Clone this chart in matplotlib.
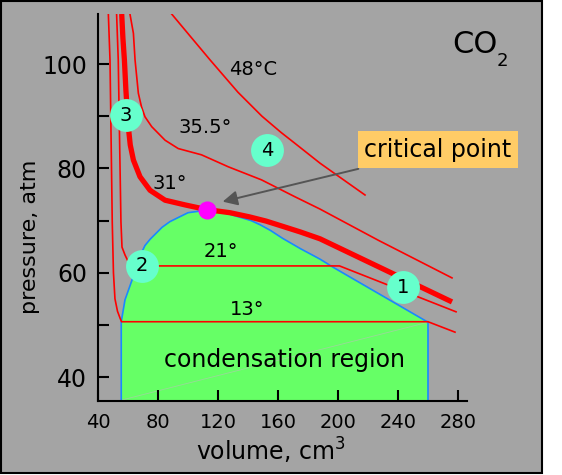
#!/usr/bin/env python3
# -*- coding: utf-8 -*-

# Isothermes du CO2 (diagramme p-V, Andrews)
import matplotlib
matplotlib.use("Agg")
import matplotlib.pyplot as plt
from matplotlib.patches import Rectangle

# Isothermes (volume cm3, pression atm)
v13 = [46.9, 48, 49.5, 50.3, 51.3, 53, 54.7, 55.7, 260, 278]
p13 = [109.6, 100.8, 69.7, 60, 55, 52.6, 51.3, 50.6, 50.6, 48.6]

v21 = [52.4, 53.5, 55.3, 56, 58, 60, 63, 201, 278.7]
p21 = [109.6, 100.8, 69.7, 64.9, 63.4, 62.2, 61.3, 61.3, 52.5]

v31 = [55.8, 56.6, 57.6, 58.6, 60.2, 61.5, 63.6, 68, 74.7, 84.7, 98, 112.5,
       128, 141, 152, 163, 175, 188, 276]
p31 = [109.6, 105, 100.8, 95, 88, 84.5, 81.6, 78.4, 75.8, 73.9, 73, 72.1,
       71.5, 70.7, 69.9, 68.9, 67.8, 66.5, 54.4]

v35 = [61.3, 63.6, 64.7, 66.9, 69, 71.3, 75.8, 84.7, 93.5, 109, 126.9, 149,
       171, 188, 227, 276]
p35 = [109.6, 105.9, 100.8, 94.4, 91.8, 89.9, 88, 85.4, 83.8, 82.6, 80.3, 77.8,
       74.6, 72.2, 66.2, 59]

v48 = [89.1, 101.3, 114.7, 133.3, 149.3, 162, 171.3, 188, 204.7, 218]
p48 = [109.6, 105.4, 100.8, 94.6, 90.0, 86.9, 84.8, 81, 77.6, 74.9]

# Zone de condensation (courbe de saturation)
v_dome = [55.5, 55.5, 58, 62.7, 66, 71.3, 74.7, 82.7, 88, 100, 112.5,
          120, 128, 135, 142, 148, 155, 163, 175, 188, 197, 260, 260]
p_dome = [35.4, 50.6, 54.8, 58.6, 62, 65.2, 66.4, 68.7, 69.8, 71.5, 72.0,
          71.7, 71.2, 70.6, 70, 69.2, 68.1, 66.6, 64.6, 62.6, 61.0, 50.5, 35.4]

crit_v, crit_p = 112.5, 72.1

# Etiquettes
iso_labels = ['48°C', '35.5°', '31°', '21°', '13°']
iso_v = [143.3, 111.3, 88, 121.7, 139.7]
iso_p = [97.9, 86.8, 76.0, 63.0, 51.9]

num_labels = ['1', '2', '3', '4']
num_v = [243.3, 69.5, 58.6, 152.5]
num_p = [57.2, 61.3, 90.2, 83.5]

W, H = 562, 475
fig = plt.figure(figsize=(W / 100, H / 100), dpi=100)
fig.patches.append(Rectangle((1 / W, 2.5 / H), 541 / W, 471.5 / H,
                             transform=fig.transFigure, fc='#a4a4a4',
                             ec='black', lw=1.5, zorder=-10))

ax = fig.add_axes([98 / W, (H - 401) / H, (467 - 98) / W, 387 / H])
ax.patch.set_visible(False)
ax.set_xlim(40, 286)
ax.set_ylim(35.4, 109.6)

# zone verte + courbe bleue
ax.fill(v_dome, p_dome, color='#66ff66', lw=0, zorder=1)
ax.plot(v_dome, p_dome, color='#1a88ff', lw=1.2, zorder=2)
ax.plot([56, 260], [35.6, 50.5], color='#9ad89a', lw=0.6, zorder=1.5)

for v, p in [(v13, p13), (v21, p21), (v35, p35), (v48, p48)]:
    ax.plot(v, p, color='red', lw=1.2, zorder=3)
ax.plot(v31, p31, color='red', lw=3.8, zorder=3, solid_capstyle='butt')

ax.scatter([crit_v], [crit_p], s=170, color='#ff00ff', zorder=5, lw=0)
ax.scatter(num_v, num_p, s=560, color='#66ffcc', zorder=6, lw=0)
for t, v, p in zip(num_labels, num_v, num_p):
    ax.text(v, p, t, ha='center', va='center', fontsize=14, zorder=7)

for t, v, p in zip(iso_labels, iso_v, iso_p):
    ax.text(v, p, t, ha='center', va='baseline', fontsize=14, zorder=7)

ax.text(164, 42.0, 'condensation region', ha='center', va='baseline',
        fontsize=17, zorder=7)

ax.annotate('critical point', xy=(121.3, 73.5), xytext=(266.7, 83.6),
            ha='center', va='center', fontsize=17, zorder=8,
            bbox=dict(boxstyle='square,pad=0.28', fc='#ffcc66', ec='none'),
            arrowprops=dict(arrowstyle='-|>', color='#555555', lw=1.4,
                            mutation_scale=22))

fig.text(452 / W, 1 - 53.3 / H, 'CO', fontsize=22, ha='left', va='baseline')
fig.text(497 / W, 1 - 65.7 / H, '2', fontsize=13, ha='left', va='baseline')

# axes
for s in ['top', 'right']:
    ax.spines[s].set_visible(False)
for s in ['left', 'bottom']:
    ax.spines[s].set_linewidth(1.5)
ax.set_xticks([40, 80, 120, 160, 200, 240, 280])
ax.set_yticks([40, 60, 80, 100])
ax.set_yticks([50, 70, 90], minor=True)
ax.tick_params(axis='both', which='both', direction='in', length=8, width=1.5)
ax.tick_params(axis='x', labelsize=14, pad=9)
ax.tick_params(axis='y', labelsize=17, pad=8)

ax.set_xlabel('volume, cm$^3$', fontsize=17)
ax.xaxis.set_label_coords(0.470, -0.155)
ax.xaxis.label.set_verticalalignment('baseline')
ax.set_ylabel('pressure, atm', fontsize=16)
ax.yaxis.set_label_coords(-0.157, 0.4245)

fig.savefig('out.png', dpi=100)
